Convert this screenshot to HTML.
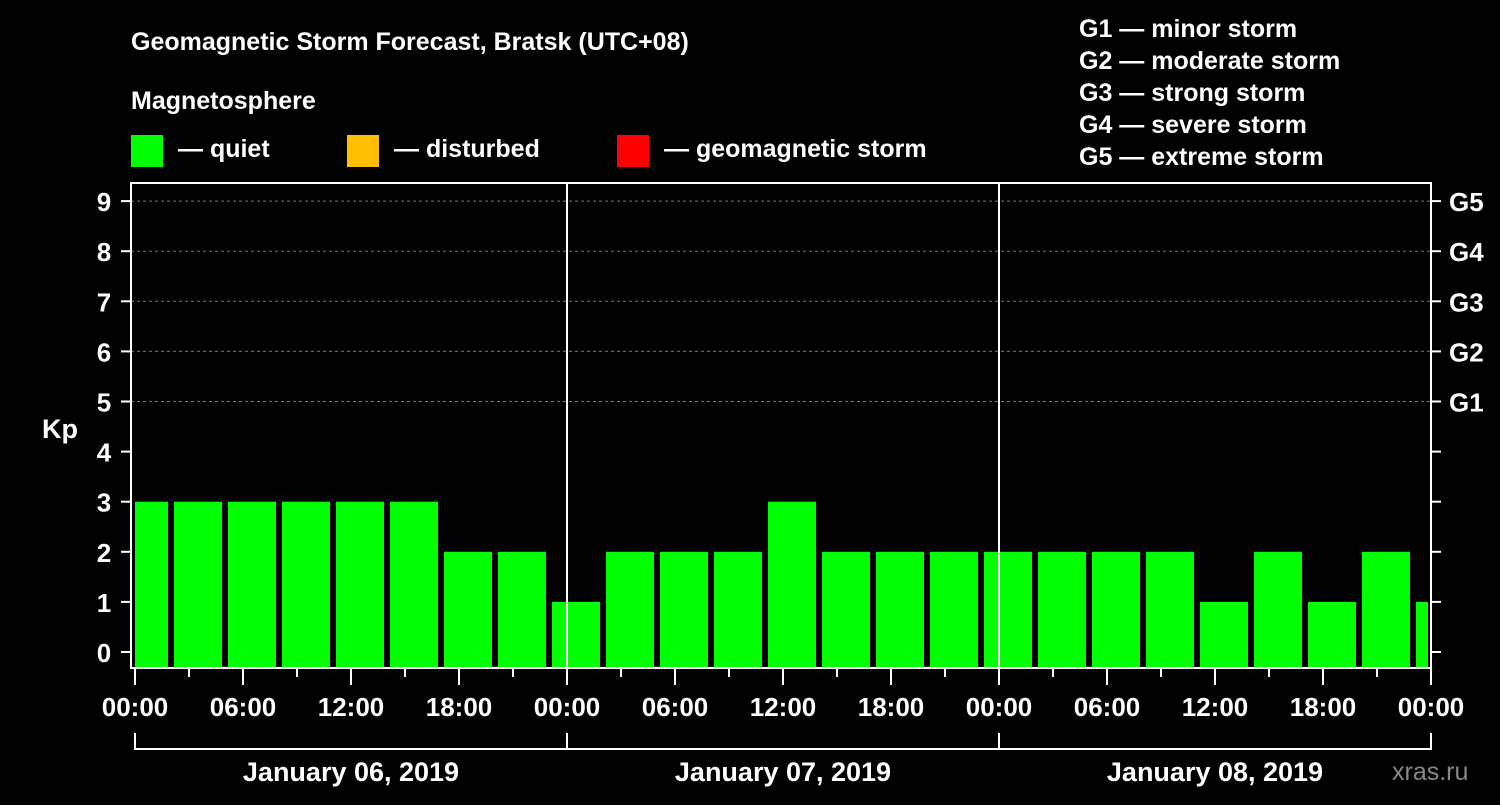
<!DOCTYPE html>
<html><head><meta charset="utf-8"><style>
body{margin:0;background:#000;width:1500px;height:800px;overflow:hidden}
svg text{font-family:"Liberation Sans",Arial,sans-serif;font-weight:bold;fill:#fff}
</style></head><body>
<svg id="chart" width="1500" height="800" xmlns="http://www.w3.org/2000/svg">
<text x="131" y="50" font-size="25">Geomagnetic Storm Forecast, Bratsk (UTC+08)</text>
<text x="131" y="109" font-size="25">Magnetosphere</text>
<rect x="131" y="135" width="32" height="32" fill="#00ff00"/>
<text x="178" y="157" font-size="25">— quiet</text>
<rect x="347" y="135" width="32" height="32" fill="#ffbf00"/>
<text x="394" y="157" font-size="25">— disturbed</text>
<rect x="617" y="135" width="32" height="32" fill="#ff0000"/>
<text x="664" y="157" font-size="25">— geomagnetic storm</text>
<g font-size="25">
<text x="1079" y="37">G1 — minor storm</text>
<text x="1079" y="69">G2 — moderate storm</text>
<text x="1079" y="101">G3 — strong storm</text>
<text x="1079" y="133">G4 — severe storm</text>
<text x="1079" y="165">G5 — extreme storm</text>
</g>
<text x="42" y="438" font-size="27">Kp</text>
<text x="1392" y="780" font-size="25" fill="#888" style="fill:#888;font-weight:normal">xras.ru</text>
<g id="grid"></g><g id="bars"></g><g id="axes"></g>
</svg>
<script>
const values=[3,3,3,3,3,3,2,2,1,2,2,2,3,2,2,2,2,2,2,2,1,2,1,2,1];
const yTicks=[0,1,2,3,4,5,6,7,8,9];
const gLabels=["G1","G2","G3","G4","G5"];
const gLevels=[5,6,7,8,9];
const xLabels=["00:00","06:00","12:00","18:00","00:00","06:00","12:00","18:00","00:00","06:00","12:00","18:00","00:00"];
const dates=["January 06, 2019","January 07, 2019","January 08, 2019"];
const NS="http://www.w3.org/2000/svg";
const L=131,R=1431,T=183,B=668,X0=135,PH=18;
const y=v=>652-v*50.1;
const x=h=>X0+h*PH;
function mk(tag,attrs,parent,txt){const e=document.createElementNS(NS,tag);for(const k in attrs)e.setAttribute(k,attrs[k]);if(txt!==undefined)e.textContent=txt;document.getElementById(parent).appendChild(e);return e;}
yTicks.forEach(v=>{if(v>=5){const g=mk('line',{x1:L,x2:R,y1:y(v),y2:y(v),stroke:'#777','stroke-dasharray':'3,3'},'grid');

}});
values.forEach((v,i)=>{const x1=Math.max(x(i*3)-15,X0),x2=x(i*3)+33;const r=mk('rect',{x:x1,y:y(v),width:Math.min(x2,1428)-x1,height:B-y(v),fill:v>=5?'#ff0000':(v>=4?'#ffbf00':'#00ff00')},'bars');

});
mk('rect',{x:L,y:T,width:R-L,height:B-T,fill:'none',stroke:'#fff','stroke-width':2},'axes');
[1,2].forEach(d=>{const l=mk('line',{x1:x(d*24),x2:x(d*24),y1:T,y2:B,stroke:'#fff','stroke-width':2},'axes');

});
yTicks.forEach(v=>{mk('line',{x1:L-10,x2:L,y1:y(v),y2:y(v),stroke:'#fff','stroke-width':2},'axes');
mk('line',{x1:R,x2:R+10,y1:y(v),y2:y(v),stroke:'#fff','stroke-width':2},'axes');
const t=mk('text',{x:104,y:y(v)+10,'font-size':26,'text-anchor':'middle'},'axes',String(v));

});
gLabels.forEach((g,i)=>{const t=mk('text',{x:1449,y:y(gLevels[i])+10,'font-size':26},'axes',g);

});
for(let h=0;h<=72;h+=3){const maj=h%6===0;mk('line',{x1:x(h),x2:x(h),y1:B,y2:B+(maj?17:9),stroke:'#fff','stroke-width':2},'axes');}
xLabels.forEach((s,i)=>{const t=mk('text',{x:x(i*6),y:716,'font-size':26,'text-anchor':'middle'},'axes',s);

});
mk('line',{x1:x(0),x2:x(72),y1:749,y2:749,stroke:'#fff','stroke-width':2},'axes');
for(let d=0;d<=3;d++)mk('line',{x1:x(d*24),x2:x(d*24),y1:733,y2:750,stroke:'#fff','stroke-width':2},'axes');
dates.forEach((s,i)=>{const t=mk('text',{x:x(i*24+12),y:781,'font-size':27,'text-anchor':'middle'},'axes',s);

});
</script>
</body></html>
